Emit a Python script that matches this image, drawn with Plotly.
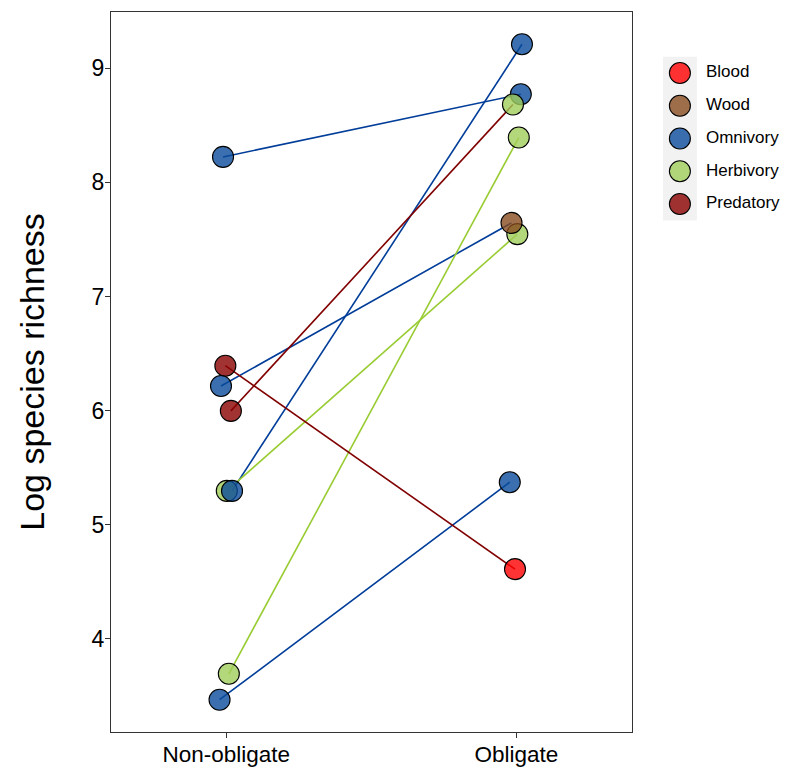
import plotly.graph_objects as go

# ---- data ----
categories = ["Blood", "Wood", "Omnivory", "Herbivory", "Predatory"]
fill_colors = {
    "Blood": "rgba(255,0,0,0.8)",
    "Wood": "rgba(136,76,31,0.8)",
    "Omnivory": "rgba(10,75,155,0.8)",
    "Herbivory": "rgba(160,205,90,0.8)",
    "Predatory": "rgba(139,0,0,0.8)",
}
line_colors = {
    "Omnivory": "#003D99",
    "Herbivory": "#99CC33",
    "Predatory": "#800000",
}

x_labels = ["Non-obligate", "Obligate"]

# paired observations (non-obligate -> obligate); x includes jitter
non_group = ["Omnivory", "Omnivory", "Omnivory", "Omnivory", "Herbivory", "Herbivory", "Predatory", "Predatory"]
non_y = [8.223, 6.215, 5.296, 3.466, 5.296, 3.693, 5.997, 6.393]
non_x = [0.989, 0.982, 1.020, 0.977, 1.002, 1.009, 1.016, 0.997]
obl_group = ["Omnivory", "Wood", "Omnivory", "Omnivory", "Herbivory", "Herbivory", "Herbivory", "Blood"]
obl_y = [8.772, 7.645, 9.210, 5.372, 7.546, 8.393, 8.682, 4.610]
obl_x = [2.015, 1.983, 2.019, 1.977, 2.003, 2.008, 1.988, 1.995]

# drawing order of the points (later drawn on top)
point_order = [("n", 6), ("n", 7), ("n", 0), ("n", 1), ("n", 4), ("n", 5), ("n", 2), ("n", 3),
               ("o", 2), ("o", 0), ("o", 5), ("o", 6), ("o", 4), ("o", 1), ("o", 3), ("o", 7)]

font_family = "Liberation Sans, Arial, sans-serif"

fig = go.Figure()

# connecting lines, grouped by colour of the non-obligate group
for grp, col in line_colors.items():
    xs, ys = [], []
    for i, g in enumerate(non_group):
        if g == grp:
            xs += [non_x[i], obl_x[i], None]
            ys += [non_y[i], obl_y[i], None]
    fig.add_trace(go.Scatter(x=xs, y=ys, mode="lines", line=dict(color=col, width=1.6),
                             showlegend=False, hoverinfo="skip"))

# points
px, py, pc = [], [], []
for side, i in point_order:
    if side == "n":
        px.append(non_x[i]); py.append(non_y[i]); pc.append(fill_colors[non_group[i]])
    else:
        px.append(obl_x[i]); py.append(obl_y[i]); pc.append(fill_colors[obl_group[i]])
fig.add_trace(go.Scatter(x=px, y=py, mode="markers",
                         marker=dict(size=21, color=pc, line=dict(color="black", width=1.1)),
                         showlegend=False))

# legend drawn on a secondary axis pair
fig.add_trace(go.Scatter(x=[0] * len(categories), y=categories, mode="markers",
                         marker=dict(size=21, color=[fill_colors[c] for c in categories],
                                     line=dict(color="black", width=1.1)),
                         xaxis="x2", yaxis="y2", showlegend=False, hoverinfo="skip"))
fig.add_trace(go.Scatter(x=[26] * len(categories), y=categories, mode="text", text=categories,
                         textposition="middle right",
                         textfont=dict(size=17, color="black", family=font_family),
                         xaxis="x2", yaxis="y2", showlegend=False, hoverinfo="skip",
                         cliponaxis=False))

fig.add_shape(type="rect", xref="x2", yref="y2 domain", x0=-17, x1=17, y0=0, y1=1,
              fillcolor="#F2F2F2", line=dict(width=0), layer="below")

fig.update_layout(
    width=800, height=774,
    margin=dict(l=103, r=8, t=4, b=50),
    paper_bgcolor="white", plot_bgcolor="white",
    font=dict(family=font_family, color="black"),
    xaxis=dict(domain=[0, 0.7557], range=[0.603, 2.397], tickvals=[1, 2], ticktext=x_labels,
               showgrid=False, zeroline=False, showline=True, mirror=True,
               linecolor="#333333", linewidth=1.3, ticks="outside", ticklen=5, tickcolor="#333333",
               tickfont=dict(size=22.5, color="black"), ticklabelstandoff=-3),
    yaxis=dict(range=[3.183, 9.493], tickvals=[4, 5, 6, 7, 8, 9],
               showgrid=False, zeroline=False, showline=True, mirror=True,
               linecolor="#333333", linewidth=1.3, ticks="outside", ticklen=5, tickcolor="#333333",
               tickfont=dict(size=23, color="black"), ticklabelstandoff=-4,
               title=dict(text="Log species richness", font=dict(size=34, color="black"), standoff=36)),
    xaxis2=dict(domain=[0.801, 1.0], range=[-17, 120], visible=False, fixedrange=True),
    yaxis2=dict(domain=[0.7105, 0.938], type="category", categoryarray=categories,
                range=[4.5, -0.5], visible=False, fixedrange=True, anchor="x2"),
)

fig.write_html("out.html")
